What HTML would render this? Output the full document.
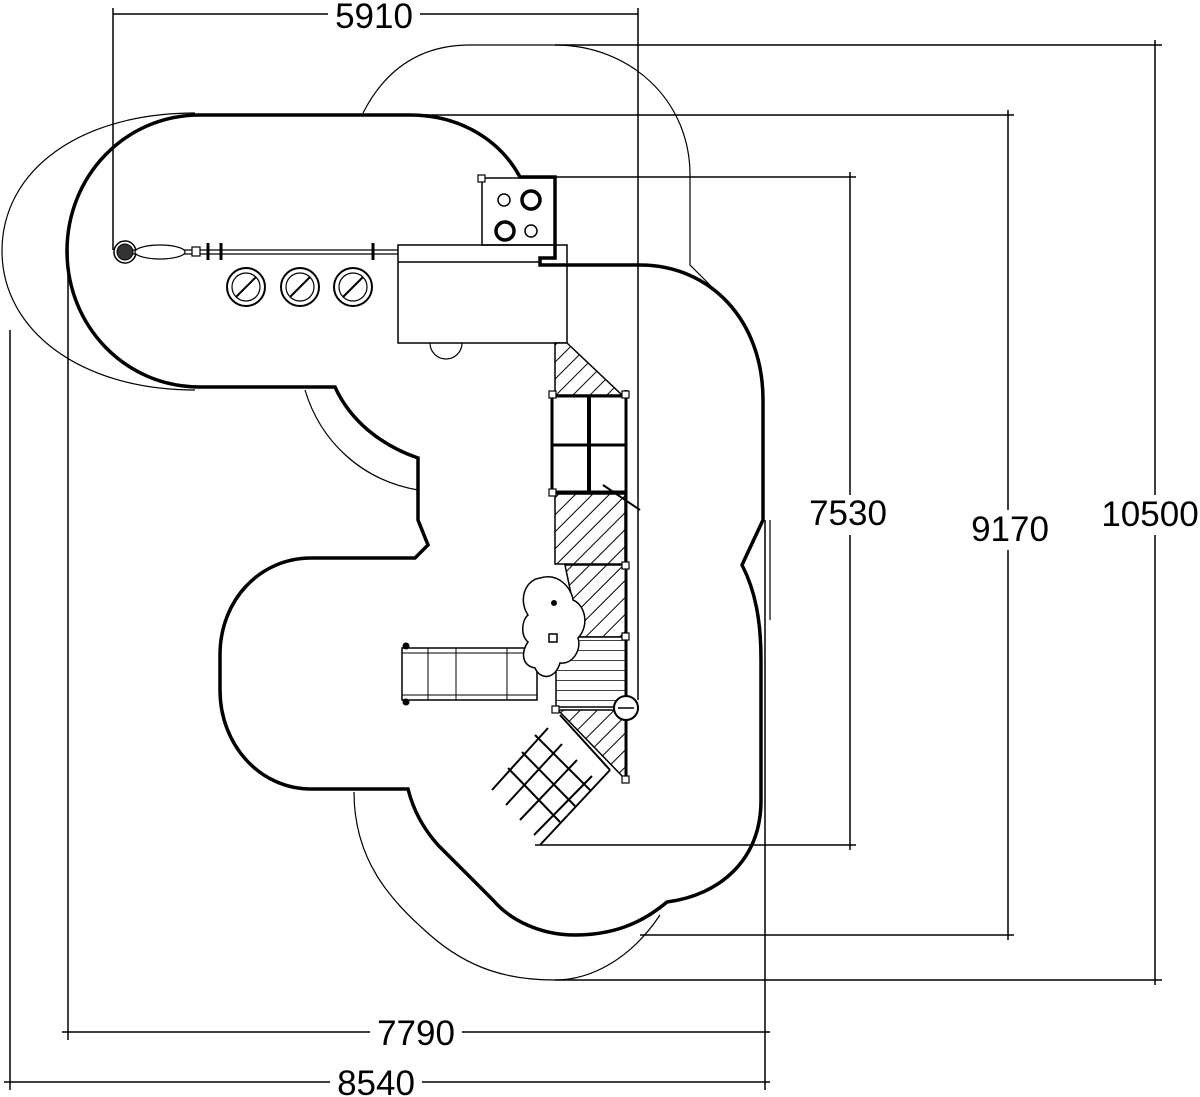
<!DOCTYPE html>
<html><head><meta charset="utf-8"><style>
html,body{margin:0;padding:0;background:#fff}
svg{display:block}
text{font-family:"Liberation Sans",sans-serif;font-size:35px;fill:#000}
</style></head><body>
<svg width="1200" height="1097" viewBox="0 0 1200 1097" xmlns="http://www.w3.org/2000/svg">
<defs>
<pattern id="h" width="12" height="12" patternUnits="userSpaceOnUse" patternTransform="rotate(45)">
<rect width="12" height="12" fill="#fff"/><line x1="0" y1="0" x2="0" y2="12" stroke="#000" stroke-width="2"/></pattern>
<pattern id="hz" width="10" height="10" patternUnits="userSpaceOnUse">
<rect width="10" height="10" fill="#fff"/><line x1="0" y1="0" x2="10" y2="0" stroke="#000" stroke-width="1.5"/></pattern>
</defs>
<g fill="none" stroke="#000">
<g stroke-width="1.2">
<path d="M195 113 C 80 113 2 170 2 251 C 2 330 80 390 195 390"/>
<path d="M363 113 C 385 70 420 45 470 45 L 555 45 C 630 45 690 100 690 175 L 690 265 L 715 290"/>
<path d="M305 390 C 320 440 360 480 418 490"/>
<path d="M770 520 L 770 620"/>
<path d="M354 792 C 354 860 390 900 430 935 C 470 970 510 980 555 980 C 590 980 630 960 660 915"/>
</g>
<path stroke-width="3.5" d="M200 115 L 410 115 C 460 115 500 140 520 177 L 555 177 L 555 258 L 540 258 L 540 265 L 640 265 C 710 265 763 320 763 400 L 763 520 L 742 565 C 755 590 761 620 761 660 L 761 800 C 761 860 720 895 667 902 C 640 925 610 935 575 935 C 540 935 510 920 493 900 L 438 845 C 420 825 412 805 408 789 L 311 789 C 260 789 220 745 220 690 L 220 655 C 220 600 260 558 311 558 L 415 558 L 428 545 L 418 520 L 418 458 C 380 445 350 420 335 387 L 200 387 C 125 387 67 326 67 251 C 67 176 125 115 200 115 Z"/>
<g stroke-width="1.5">
<line x1="113" y1="14" x2="638" y2="14"/>
<line x1="113" y1="8" x2="113" y2="250"/>
<line x1="638" y1="8" x2="638" y2="700"/>
<line x1="555" y1="45" x2="1162" y2="45"/>
<line x1="555" y1="980" x2="1162" y2="980"/>
<line x1="1155" y1="40" x2="1155" y2="985"/>
<line x1="410" y1="115" x2="1014" y2="115"/>
<line x1="640" y1="935" x2="1014" y2="935"/>
<line x1="1008" y1="110" x2="1008" y2="940"/>
<line x1="555" y1="177" x2="856" y2="177"/>
<line x1="535" y1="845" x2="856" y2="845"/>
<line x1="850" y1="172" x2="850" y2="850"/>
<line x1="68" y1="250" x2="68" y2="1040"/>
<line x1="10" y1="330" x2="10" y2="1090"/>
<line x1="765" y1="520" x2="765" y2="1090"/>
<line x1="62" y1="1032" x2="770" y2="1032"/>
<line x1="4" y1="1082" x2="770" y2="1082"/>
</g>
<rect x="398" y="245" width="169" height="98" stroke-width="1.5"/>
<line x1="398" y1="262" x2="540" y2="262" stroke-width="1.5"/>
<path d="M430 343 A16 16 0 0 0 462 343" stroke-width="1.2"/>
<rect x="482" y="178" width="73" height="67" stroke-width="1.5"/>
<circle cx="504" cy="200" r="6" stroke-width="1.5"/>
<circle cx="531" cy="200" r="9" stroke-width="3.5"/>
<circle cx="505" cy="231" r="9" stroke-width="3.5"/>
<circle cx="531" cy="231" r="6" stroke-width="1.5"/>
<rect x="478" y="175" width="7" height="7" fill="#fff" stroke-width="1.2"/>
<line x1="130" y1="250" x2="398" y2="250" stroke-width="1.2"/>
<line x1="130" y1="254" x2="398" y2="254" stroke-width="1.2"/>
<circle cx="125" cy="252" r="11" stroke-width="1.5"/>
<circle cx="125" cy="252" r="8" fill="#333" stroke-width="1"/>
<ellipse cx="160" cy="252" rx="25" ry="7" fill="#fff" stroke-width="1.2"/>
<rect x="192" y="247" width="8" height="9" fill="#fff" stroke-width="1.2"/>
<line x1="208" y1="243" x2="208" y2="260" stroke-width="3"/>
<line x1="221" y1="243" x2="221" y2="260" stroke-width="3"/>
<line x1="373" y1="243" x2="373" y2="260" stroke-width="3"/>
<g stroke-width="2">
<circle cx="246" cy="287" r="19"/><circle cx="246" cy="287" r="14" stroke-width="1.2"/><line x1="236" y1="297" x2="256" y2="277"/>
<circle cx="300" cy="287" r="19"/><circle cx="300" cy="287" r="14" stroke-width="1.2"/><line x1="290" y1="297" x2="310" y2="277"/>
<circle cx="353" cy="287" r="19"/><circle cx="353" cy="287" r="14" stroke-width="1.2"/><line x1="343" y1="297" x2="363" y2="277"/>
</g>
<path d="M555 343 L567 343 L622 395 L555 395 Z" fill="url(#h)" stroke-width="1.5"/>
<rect x="552" y="396" width="74" height="96" stroke-width="3"/>
<line x1="589" y1="396" x2="589" y2="492" stroke-width="4"/>
<line x1="552" y1="445" x2="626" y2="445" stroke-width="3"/>
<rect x="555" y="494" width="70" height="70" fill="url(#h)" stroke-width="1.5"/>
<path d="M565 565 L626 565 L626 637 L580 637 Z" fill="url(#h)" stroke-width="1.5"/>
<rect x="556" y="637" width="70" height="70" fill="url(#hz)" stroke-width="1.5"/>
<path d="M558 710 L626 710 L626 780 Z" fill="url(#h)" stroke-width="1.5"/>
<line x1="626" y1="390" x2="626" y2="782" stroke-width="3"/>
<g fill="#fff" stroke-width="1.2">
<rect x="549" y="391" width="7" height="7"/><rect x="622" y="391" width="7" height="7"/>
<rect x="549" y="489" width="7" height="7"/><rect x="622" y="562" width="7" height="7"/>
<rect x="622" y="633" width="7" height="7"/><rect x="552" y="706" width="7" height="7"/>
<rect x="622" y="776" width="7" height="7"/>
</g>
<circle cx="626" cy="708" r="12" fill="#fff" stroke-width="2"/>
<line x1="618" y1="708" x2="634" y2="708" stroke-width="1.5"/>
<path d="M603 485 L640 510" stroke-width="2"/>
<g stroke-width="2">
<line x1="560" y1="715" x2="610" y2="770"/>
<line x1="610" y1="770" x2="540" y2="845"/>
<line x1="548" y1="728" x2="492" y2="790"/><line x1="562" y1="744" x2="506" y2="805"/>
<line x1="577" y1="760" x2="520" y2="820"/><line x1="592" y1="776" x2="534" y2="835"/>
<line x1="535" y1="735" x2="590" y2="790"/><line x1="522" y1="752" x2="575" y2="806"/>
<line x1="508" y1="768" x2="560" y2="822"/>
</g>
<rect x="402" y="648" width="135" height="52" fill="#fff" stroke-width="1.5"/>
<line x1="402" y1="653" x2="537" y2="653" stroke-width="1"/>
<line x1="402" y1="695" x2="537" y2="695" stroke-width="1"/>
<line x1="428" y1="648" x2="428" y2="700" stroke-width="1"/>
<line x1="456" y1="648" x2="456" y2="700" stroke-width="1"/>
<line x1="507" y1="648" x2="507" y2="700" stroke-width="1"/>
<circle cx="406" cy="646" r="3" fill="#000"/><circle cx="406" cy="702" r="3" fill="#000"/>
<path d="M540 578 C 560 572 572 590 573 600 C 585 605 590 625 578 638 C 582 650 572 665 560 663 C 555 680 540 680 535 668 C 520 665 522 650 528 642 C 520 635 522 620 528 615 C 518 600 525 580 540 578 Z" fill="#fff" stroke-width="1.5"/>
<circle cx="554" cy="603" r="2.5" fill="#000"/>
<rect x="549" y="634" width="8" height="8" fill="#fff" stroke-width="1.5"/>
</g>
<g>
<rect x="328" y="0" width="92" height="30" fill="#fff"/>
<text x="374" y="28" text-anchor="middle">5910</text>
<rect x="1100" y="495" width="100" height="40" fill="#fff"/>
<text x="1150" y="526" text-anchor="middle">10500</text>
<rect x="965" y="510" width="90" height="40" fill="#fff"/>
<text x="1010" y="541" text-anchor="middle">9170</text>
<rect x="806" y="495" width="84" height="40" fill="#fff"/>
<text x="848" y="525" text-anchor="middle">7530</text>
<rect x="370" y="1016" width="92" height="32" fill="#fff"/>
<text x="416" y="1045" text-anchor="middle">7790</text>
<rect x="330" y="1066" width="92" height="31" fill="#fff"/>
<text x="376" y="1095" text-anchor="middle">8540</text>
</g>
</svg>
</body></html>
